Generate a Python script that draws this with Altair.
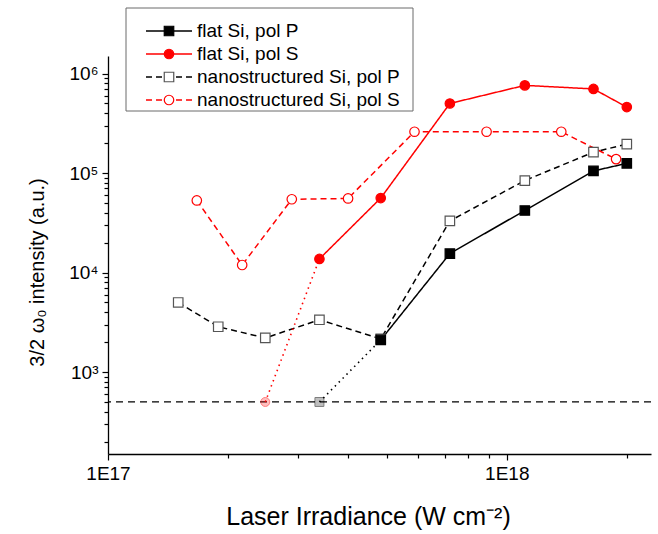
import altair as alt
import pandas as pd
import math

# ---------------- data ----------------
series_names = ["flat Si, pol P", "flat Si, pol S",
                "nanostructured Si, pol P", "nanostructured Si, pol S"]

x_flat_p = [4.83e17, 7.2e17, 1.11e18, 1.65e18, 2.0e18]
y_flat_p = [2.1e3, 1.55e4, 4.2e4, 1.05e5, 1.25e5]

x_flat_s = [3.39e17, 4.83e17, 7.2e17, 1.11e18, 1.65e18, 2.0e18]
y_flat_s = [1.37e4, 5.6e4, 5.0e5, 7.6e5, 7.0e5, 4.6e5]

x_nano_p = [1.5e17, 1.89e17, 2.48e17, 3.39e17, 4.83e17, 7.2e17, 1.11e18, 1.65e18, 2.0e18]
y_nano_p = [5.0e3, 2.85e3, 2.2e3, 3.35e3, 2.15e3, 3.3e4, 8.4e4, 1.62e5, 1.95e5]

x_nano_s = [1.67e17, 2.17e17, 2.89e17, 4.0e17, 5.87e17, 8.9e17, 1.37e18, 1.88e18]
y_nano_s = [5.3e4, 1.19e4, 5.45e4, 5.55e4, 2.6e5, 2.6e5, 2.6e5, 1.38e5]

# points below detection limit (faded markers + dotted connectors)
below_names = ["flat Si, pol P", "flat Si, pol S"]
below_x = [3.39e17, 2.48e17]
below_y = [500, 500]

detection_limit = [500]

x_tick_values = [1e17, 1e18]
x_tick_labels = ["1E17", "1E18"]
x_minor_values = [2e17, 3e17, 4e17, 5e17, 6e17, 7e17, 8e17, 9e17, 2e18]

y_tick_values = [1e3, 1e4, 1e5, 1e6]
y_tick_labels = ["10\u00b3", "10\u2074", "10\u2075", "10\u2076"]
y_minor_values = [m * 10 ** e for e in [2, 3, 4, 5] for m in range(2, 10)]

# ---------------- tables ----------------
rows = []
for name, xs_, ys_ in [(series_names[2], x_nano_p, y_nano_p),
                       (series_names[3], x_nano_s, y_nano_s),
                       (series_names[0], x_flat_p, y_flat_p),
                       (series_names[1], x_flat_s, y_flat_s)]:
    for a, b in zip(xs_, ys_):
        rows.append({"series": name, "x": a, "y": b})
df = pd.DataFrame(rows)

# dotted connectors: below-limit point -> first measured point
seg_rows = []
first_pts = {series_names[0]: (x_flat_p[0], y_flat_p[0]),
             series_names[1]: (x_flat_s[0], y_flat_s[0])}
for name, bx, by in zip(below_names, below_x, below_y):
    seg_rows.append({"series": name, "x": bx, "y": by})
    seg_rows.append({"series": name, "x": first_pts[name][0], "y": first_pts[name][1]})
seg_df = pd.DataFrame(seg_rows)
below_df = pd.DataFrame({"series": below_names, "x": below_x, "y": below_y})
limit_df = pd.DataFrame({"y": detection_limit})

# ---------------- styles ----------------
FONT = "Liberation Sans"
line_colors = ["#000000", "#ff0000", "#000000", "#ff0000"]
line_dashes = [[1, 0], [1, 0], [6, 4], [6, 4]]
marker_shapes = ["square", "circle", "square", "circle"]
marker_fills = ["#000000", "#ff0000", "#ffffff", "#ffffff"]
marker_strokes = ["#000000", "#ff0000", "#555555", "#ff0000"]
MSIZE = 90

xs = alt.Scale(type="log", domain=[1e17, 2.3e18], nice=False)
ys = alt.Scale(type="log", domain=[150, 1.5e6], nice=False)


def label_expr(values, labels):
    expr = "''"
    for v, lab in zip(values[::-1], labels[::-1]):
        k = round(math.log10(v))
        expr = f"round(log(datum.value)/LN10) == {k} ? '{lab}' : ({expr})"
    return expr


major_x = alt.Axis(values=x_tick_values, labelExpr=label_expr(x_tick_values, x_tick_labels),
                   orient="bottom", grid=False, tickSize=6, tickWidth=1.2, tickColor="black",
                   domainColor="black", domainWidth=1.3, labelFontSize=19, labelFont=FONT,
                   labelColor="black", labelPadding=4, labelFlush=False,
                   title="Laser Irradiance (W cm\u207b\u00b2)", titleFont=FONT,
                   titleFontSize=25, titleFontWeight="normal", titleColor="black",
                   titleX=260, titlePadding=21)
major_y = alt.Axis(values=y_tick_values, labelExpr=label_expr(y_tick_values, y_tick_labels),
                   orient="left", grid=False, tickSize=6, tickWidth=1.2, tickColor="black",
                   domainColor="black", domainWidth=1.3, labelFontSize=19, labelFont=FONT,
                   labelColor="black", labelPadding=4, labelFlush=False,
                   title="3/2 \u03c9\u2080 intensity (a.u.)", titleFont=FONT,
                   titleFontSize=20, titleFontWeight="normal", titleColor="black",
                   titleX=-61, titleY=216)
minor_x = alt.Axis(values=x_minor_values, labels=False, domain=False, grid=False,
                   orient="bottom", tickSize=4, tickWidth=1.2, tickColor="black", title=None)
minor_y = alt.Axis(values=y_minor_values, labels=False, domain=False, grid=False,
                   orient="left", tickSize=4, tickWidth=1.2, tickColor="black", title=None)

col_scale = alt.Scale(domain=series_names, range=line_colors)
dash_scale = alt.Scale(domain=series_names, range=line_dashes)
shape_scale = alt.Scale(domain=series_names, range=marker_shapes)
fill_scale = alt.Scale(domain=series_names, range=marker_fills)
stroke_scale = alt.Scale(domain=series_names, range=marker_strokes)

limit = alt.Chart(limit_df).mark_rule(color="black", strokeWidth=1.3, strokeDash=[7, 5]).encode(
    y=alt.Y("y:Q", scale=ys, axis=None))

lines = alt.Chart(df).mark_line(strokeWidth=1.5).encode(
    x=alt.X("x:Q", scale=xs, axis=major_x),
    y=alt.Y("y:Q", scale=ys, axis=major_y),
    color=alt.Color("series:N", scale=col_scale, legend=None),
    strokeDash=alt.StrokeDash("series:N", scale=dash_scale, legend=None),
    order="x:Q",
)

dotted = alt.Chart(seg_df).mark_line(strokeWidth=1.6, strokeDash=[1.5, 4]).encode(
    x=alt.X("x:Q", scale=xs, axis=None),
    y=alt.Y("y:Q", scale=ys, axis=None),
    color=alt.Color("series:N", scale=col_scale, legend=None),
)

points = alt.Chart(df).mark_point(size=MSIZE, strokeWidth=1.2, opacity=1, fillOpacity=1).encode(
    x=alt.X("x:Q", scale=xs, axis=None),
    y=alt.Y("y:Q", scale=ys, axis=None),
    shape=alt.Shape("series:N", scale=shape_scale, legend=None),
    fill=alt.Fill("series:N", scale=fill_scale, legend=None),
    stroke=alt.Stroke("series:N", scale=stroke_scale, legend=None),
)

faded = alt.Chart(below_df).mark_point(size=MSIZE - 10, strokeWidth=1, opacity=0.5, fillOpacity=0.5).encode(
    x=alt.X("x:Q", scale=xs, axis=None),
    y=alt.Y("y:Q", scale=ys, axis=None),
    shape=alt.Shape("series:N", scale=shape_scale, legend=None),
    fill=alt.Fill("series:N", scale=fill_scale, legend=None),
    stroke=alt.Stroke("series:N", scale=stroke_scale, legend=None),
)

minor = alt.Chart(df).mark_point(opacity=0).encode(
    x=alt.X("x:Q", scale=xs, axis=minor_x),
    y=alt.Y("y:Q", scale=ys, axis=minor_y),
)

# ---------------- legend (drawn manually to show line + marker) ----------------
legend_layers = [
    alt.Chart(pd.DataFrame({"k": [0]})).mark_rect(fill="white", stroke="#6b6b6b", strokeWidth=1).encode(
        x=alt.value(18), x2=alt.value(305), y=alt.value(-48), y2=alt.value(55))
]
row_y = [-25, -2, 21, 44]
for i, name in enumerate(series_names):
    rdf = pd.DataFrame({"series": [name]})
    legend_layers.append(
        alt.Chart(rdf).mark_rule(color=line_colors[i], strokeWidth=1.5,
                                 strokeDash=line_dashes[i] if i >= 2 else [1, 0]).encode(
            x=alt.value(38), x2=alt.value(84), y=alt.value(row_y[i])))
    legend_layers.append(
        alt.Chart(rdf).mark_point(shape=marker_shapes[i], fill=marker_fills[i], stroke=marker_strokes[i],
                                  size=MSIZE, strokeWidth=1.2, opacity=1, fillOpacity=1).encode(
            x=alt.value(61), y=alt.value(row_y[i])))
    legend_layers.append(
        alt.Chart(rdf).mark_text(align="left", baseline="middle", font=FONT, fontSize=19,
                                 color="black").encode(
            x=alt.value(89), y=alt.value(row_y[i]), text="series:N"))

chart = alt.layer(limit, lines, dotted, points, faded, minor, *legend_layers).resolve_axis(
    x="independent", y="independent"
).properties(
    width=543, height=398,
    autosize=alt.AutoSizeParams(type="none"),
    padding={"left": 108, "top": 56, "right": 7, "bottom": 80},
    background="white",
).configure_view(stroke=None)

chart.save("out.html", embed_options={"renderer": "svg", "actions": False})
